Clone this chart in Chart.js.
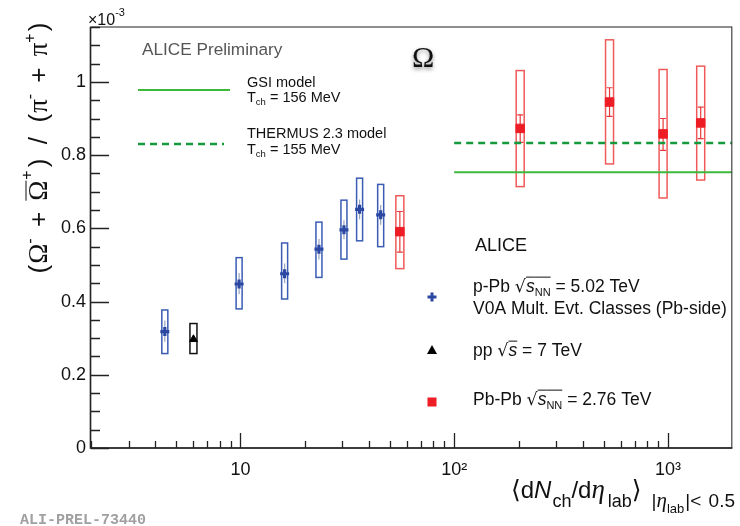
<!DOCTYPE html>
<html>
<head>
<meta charset="utf-8">
<script src="https://cdn.jsdelivr.net/npm/chart.js@4.4.1/dist/chart.umd.min.js"></script>
<style>
html,body{margin:0;padding:0;background:#fff;}
#wrap{width:740px;height:526px;position:relative;}
</style>
</head>
<body>
<div id="wrap"><canvas id="c" width="740" height="526"></canvas></div>
<script>
// ---- data ----
const ppbX      = [4.43, 9.86, 16.1, 23.3, 30.5, 36.1, 45.3];
const ppbY      = [0.318, 0.448, 0.476, 0.543, 0.596, 0.652, 0.637];
const ppbSysLo  = [0.258, 0.380, 0.407, 0.466, 0.516, 0.566, 0.550];
const ppbSysHi  = [0.377, 0.520, 0.560, 0.617, 0.677, 0.737, 0.720];
const ppbStatLo = [0.290, 0.420, 0.450, 0.515, 0.570, 0.625, 0.610];
const ppbStatHi = [0.348, 0.478, 0.504, 0.571, 0.622, 0.679, 0.664];

const ppX      = [6.03];
const ppY      = [0.297];
const ppSysLo  = [0.258];
const ppSysHi  = [0.340];

const pbpbX      = [55.7, 203.6, 533, 949, 1423];
const pbpbY      = [0.591, 0.873, 0.945, 0.858, 0.888];
const pbpbSysLo  = [0.490, 0.714, 0.776, 0.683, 0.732];
const pbpbSysHi  = [0.689, 1.031, 1.115, 1.034, 1.043];
const pbpbStatLo = [0.535, 0.835, 0.906, 0.813, 0.845];
const pbpbStatHi = [0.646, 0.910, 0.984, 0.900, 0.931];

const gsiValue = 0.753;
const thermusValue = 0.833;
const modelX = [100, 2000];

const xTickValues = [2,3,4,5,6,7,8,9,10,20,30,40,50,60,70,80,90,100,200,300,400,500,600,700,800,900,1000];
const xTickLabels = {10:'10', 100:'10\u00B2', 1000:'10\u00B3'};
const yTickLabels = ['0','0.2','0.4','0.6','0.8','1'];

// ---- colours ----
const BLUE = '#2c47a2', BLUEBOX = '#3a5cb4', RED = '#ee1d25', REDBOX = '#f05a5a';
const GREEN1 = '#3cb83c', GREEN2 = '#149a3c';
const SANS = 'Liberation Sans, Arial, DejaVu Sans, sans-serif';
const SERIF = 'Liberation Serif, Times New Roman, DejaVu Serif, serif';

function fontOf(p){ return (p.it?'italic ':'') + (p.b?'bold ':'') + p.s + 'px ' + (p.f||SANS); }
function richWidth(ctx, parts){ let w=0; for(const p of parts){ ctx.font=fontOf(p); w+=ctx.measureText(p.t).width + (p.after||0); } return w; }
function drawRich(ctx, x, y, parts, color){
  let cx=x;
  for(const p of parts){
    ctx.font=fontOf(p);
    ctx.fillStyle=p.c||color;
    const yy=y+(p.dy||0);
    ctx.fillText(p.t, cx, yy);
    const w=ctx.measureText(p.t).width;
    if(p.ov!==undefined){
      ctx.save(); ctx.strokeStyle=p.c||color; ctx.lineWidth=1;
      ctx.beginPath(); ctx.moveTo(cx, y-p.ov); ctx.lineTo(cx+w+(p.ovx||0), y-p.ov); ctx.stroke(); ctx.restore();
    }
    cx+=w+(p.after||0);
  }
  return cx-x;
}
function sqrtParts(sub, s){
  const parts=[{t:'\u221A', s:s, f:'DejaVu Sans', c:'#111'}, {t:'s', s:s, it:true, ov:s*0.85}];
  if(sub) parts.push({t:sub, s:Math.round(s*0.62), dy:4, ov:s*0.85});
  return parts;
}

function drawMarker(ctx, type, x, y){
  ctx.save();
  if(type==='cross'){
    ctx.strokeStyle=BLUE; ctx.lineWidth=3;
    ctx.beginPath(); ctx.moveTo(x-4.5,y); ctx.lineTo(x+4.5,y); ctx.moveTo(x,y-4.5); ctx.lineTo(x,y+4.5); ctx.stroke();
  } else if(type==='tri'){
    ctx.fillStyle='#000'; ctx.beginPath(); ctx.moveTo(x,y-5); ctx.lineTo(x+5,y+4); ctx.lineTo(x-5,y+4); ctx.closePath(); ctx.fill();
  } else {
    ctx.fillStyle=RED; ctx.fillRect(x-4.5,y-4.5,9,9);
  }
  ctx.restore();
}

const decorPlugin = {
  id:'decor',
  beforeDatasetsDraw(chart){
    const {ctx, scales:{x, y}} = chart;
    const ca = chart.chartArea;
    ctx.save();
    ctx.beginPath(); ctx.rect(ca.left, ca.top, ca.right-ca.left, ca.bottom-ca.top); ctx.clip();
    function box(xv, lo, hi, hw, color, lw){
      const px=x.getPixelForValue(xv), t=y.getPixelForValue(hi), b=y.getPixelForValue(lo);
      ctx.strokeStyle=color; ctx.lineWidth=lw; ctx.strokeRect(px-hw, t, 2*hw, b-t);
    }
    function stat(xv, lo, hi, color, lw, cap){
      const px=x.getPixelForValue(xv), t=y.getPixelForValue(hi), b=y.getPixelForValue(lo);
      ctx.strokeStyle=color; ctx.lineWidth=lw;
      ctx.beginPath(); ctx.moveTo(px,t); ctx.lineTo(px,b);
      if(cap){ ctx.moveTo(px-cap,t); ctx.lineTo(px+cap,t); ctx.moveTo(px-cap,b); ctx.lineTo(px+cap,b); }
      ctx.stroke();
    }
    ppbX.forEach((v,i)=>{ box(v, ppbSysLo[i], ppbSysHi[i], 3, BLUEBOX, 1.5); stat(v, ppbStatLo[i], ppbStatHi[i], '#9aa3bf', 1.2, 0); });
    ppX.forEach((v,i)=>{ box(v, ppSysLo[i], ppSysHi[i], 3.5, '#111', 1.5); });
    pbpbX.forEach((v,i)=>{ box(v, pbpbSysLo[i], pbpbSysHi[i], 4, REDBOX, 1.5); stat(v, pbpbStatLo[i], pbpbStatHi[i], '#e83a3a', 1.2, 3); });
    ctx.restore();
  },
  afterDraw(chart){
    const {ctx, scales:{x, y}} = chart;
    const ca = chart.chartArea;
    ctx.save();
    // frame
    ctx.strokeStyle='#444'; ctx.lineWidth=1.2;
    ctx.strokeRect(ca.left-0.5, ca.top, ca.right-ca.left, ca.bottom-ca.top);
    ctx.strokeStyle='#222'; ctx.lineWidth=1.5;
    ctx.beginPath(); ctx.moveTo(ca.left-0.5, ca.top); ctx.lineTo(ca.left-0.5, ca.bottom); ctx.lineTo(ca.right, ca.bottom); ctx.stroke();
    // ticks y
    ctx.lineWidth=1.3; ctx.strokeStyle='#222';
    ctx.beginPath();
    for(let k=0;k<=23;k++){
      const v=k*0.05; const py=Math.round(y.getPixelForValue(v))+0.5;
      const len=(k%4===0)?18:9;
      ctx.moveTo(ca.left, py); ctx.lineTo(ca.left+len, py);
    }
    // ticks x
    xTickValues.forEach(v=>{
      const px=Math.round(x.getPixelForValue(v))+0.5;
      const len=xTickLabels[v]?15:7;
      ctx.moveTo(px, ca.bottom); ctx.lineTo(px, ca.bottom-len);
    });
    ctx.stroke();

    ctx.textBaseline='alphabetic'; ctx.textAlign='left';
    // x10^-3
    drawRich(ctx, 88, 25, [{t:'\u00D710', s:16}, {t:'-3', s:11, dy:-9}], '#111');
    // ALICE Preliminary
    drawRich(ctx, 142, 55, [{t:'ALICE Preliminary', s:17.2}], '#555');
    // Omega
    ctx.save(); ctx.shadowColor='rgba(0,0,0,0.45)'; ctx.shadowBlur=4; ctx.shadowOffsetY=2;
    drawRich(ctx, 412, 67, [{t:'\u03A9', s:30, f:SERIF}], '#111'); ctx.restore();
    // model legend
    ctx.strokeStyle=GREEN1; ctx.lineWidth=2; ctx.beginPath(); ctx.moveTo(138,90); ctx.lineTo(230,90); ctx.stroke();
    ctx.strokeStyle=GREEN2; ctx.lineWidth=2.5; ctx.setLineDash([7,5]); ctx.beginPath(); ctx.moveTo(138,144); ctx.lineTo(224,144); ctx.stroke(); ctx.setLineDash([]);
    drawRich(ctx, 247, 87, [{t:'GSI model', s:14.5}], '#111');
    drawRich(ctx, 247, 102, [{t:'T', s:14.5}, {t:'ch', s:9.5, dy:3}, {t:' = 156 MeV', s:14.5}], '#111');
    drawRich(ctx, 247, 138, [{t:'THERMUS 2.3 model', s:14.5}], '#111');
    drawRich(ctx, 247, 154, [{t:'T', s:14.5}, {t:'ch', s:9.5, dy:3}, {t:' = 155 MeV', s:14.5}], '#111');
    // data legend
    drawRich(ctx, 475, 251, [{t:'ALICE', s:18}], '#111');
    drawMarker(ctx,'cross',432,297);
    drawRich(ctx, 473, 292, [{t:'p-Pb ', s:17.5}].concat(sqrtParts('NN',17.5)).concat([{t:' = 5.02 TeV', s:17.5}]), '#111');
    drawRich(ctx, 473, 314, [{t:'V0A Mult. Evt. Classes (Pb-side)', s:17.5}], '#111');
    drawMarker(ctx,'tri',432,350);
    drawRich(ctx, 473, 356, [{t:'pp ', s:17.5}].concat(sqrtParts('',17.5)).concat([{t:' = 7 TeV', s:17.5}]), '#111');
    drawMarker(ctx,'sq',432,402);
    drawRich(ctx, 473, 405, [{t:'Pb-Pb ', s:17.5}].concat(sqrtParts('NN',17.5)).concat([{t:' = 2.76 TeV', s:17.5}]), '#111');

    // x title
    const xt=[{t:'\u27E8', s:25, f:'DejaVu Sans'}, {t:'d', s:24}, {t:'N', s:24, it:true, after:1}, {t:'ch', s:18, dy:9}, {t:'/d', s:24},
              {t:'\u03B7', s:27, it:true, f:SERIF, after:3}, {t:'lab', s:18, dy:9}, {t:'\u27E9', s:25, f:'DejaVu Sans', after:10},
              {t:'|', s:19, dy:9}, {t:'\u03B7', s:21, it:true, f:SERIF, dy:9}, {t:'lab', s:13, dy:15, after:1}, {t:'|<', s:19, dy:9, after:2}, {t:' 0.5', s:19, dy:9}];
    const xw=richWidth(ctx, xt);
    drawRich(ctx, 735-xw, 498, xt, '#111');
    // y title (rotated)
    const yt=[{t:'(', s:26, after:1}, {t:'\u03A9', s:27, f:SERIF}, {t:'-', s:16, dy:-12, after:4}, {t:' + ', s:26, after:4},
              {t:'\u03A9', s:27, f:SERIF, ov:21, after:1}, {t:'+', s:16, dy:-15, after:3}, {t:')  /  (', s:26, after:1},
              {t:'\u03C0', s:27, f:SERIF}, {t:'-', s:16, dy:-12, after:4}, {t:' + ', s:26, after:4}, {t:'\u03C0', s:27, f:SERIF}, {t:'+', s:16, dy:-12, after:2}, {t:')', s:26}];
    const yw=richWidth(ctx, yt);
    ctx.save(); ctx.translate(47, 148); ctx.rotate(-Math.PI/2);
    drawRich(ctx, -yw/2, 0, yt, '#111');
    ctx.restore();
    // watermark
    drawRich(ctx, 20, 524, [{t:'ALI-PREL-73440', s:15, b:true, f:'Liberation Mono, DejaVu Sans Mono, monospace'}], '#a0a0a0');
    ctx.restore();
  }
};

const toPts = (xs, ys) => xs.map((v,i)=>({x:v, y:ys[i]}));

new Chart(document.getElementById('c'), {
  type:'scatter',
  data:{
    datasets:[
      {label:'GSI model', type:'line', data:toPts(modelX, [gsiValue, gsiValue]), borderColor:GREEN1, borderWidth:2, pointRadius:0, fill:false},
      {label:'THERMUS 2.3 model', type:'line', data:toPts(modelX, [thermusValue, thermusValue]), borderColor:GREEN2, borderWidth:2.5, borderDash:[7,5], pointRadius:0, fill:false},
      {label:'p-Pb', data:toPts(ppbX, ppbY), pointStyle:'cross', radius:4.5, borderWidth:3.2, borderColor:BLUE, backgroundColor:BLUE},
      {label:'pp', data:toPts(ppX, ppY), pointStyle:'triangle', radius:4.5, borderWidth:1, borderColor:'#000', backgroundColor:'#000'},
      {label:'Pb-Pb', data:toPts(pbpbX, pbpbY), pointStyle:'rect', radius:6, borderWidth:1, borderColor:RED, backgroundColor:RED}
    ]
  },
  options:{
    responsive:false, animation:false, devicePixelRatio:1,
    layout:{padding:{top:27, right:5, left:0, bottom:0}},
    plugins:{legend:{display:false}, tooltip:{enabled:false}},
    scales:{
      x:{type:'logarithmic', min:2, max:2000,
         afterBuildTicks:(s)=>{ s.ticks = xTickValues.map(v=>({value:v})); },
         afterFit:(s)=>{ s.height = 78; },
         grid:{display:false, drawTicks:false}, border:{display:false},
         ticks:{autoSkip:false, maxRotation:0, padding:11, color:'#111', font:{size:18, family:SANS},
                callback:(v)=> xTickLabels[v] || ''}},
      y:{type:'linear', min:0, max:1.15,
         afterBuildTicks:(s)=>{ const t=[]; for(let k=0;k<=5;k++) t.push({value:k*0.2}); s.ticks=t; },
         afterFit:(s)=>{ s.width = 91; },
         grid:{display:false, drawTicks:false}, border:{display:false},
         ticks:{autoSkip:false, padding:5, color:'#111', font:{size:18, family:SANS},
                callback:(v,i)=> yTickLabels[i]}}
    }
  },
  plugins:[decorPlugin]
});
</script>
</body>
</html>
